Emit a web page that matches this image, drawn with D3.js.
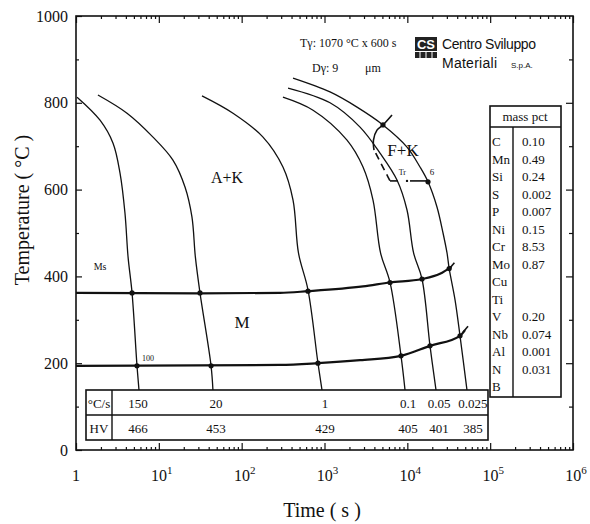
<!DOCTYPE html>
<html>
<head>
<meta charset="utf-8">
<script src="https://cdn.jsdelivr.net/npm/d3@7"></script>
<style>
  body { margin: 0; background: #fff; }
  text { font-family: "Liberation Serif", "Times New Roman", serif; fill: #111; }
</style>
</head>
<body>
<svg id="chart" width="590" height="524"></svg>
<script>
// -------------------------------
// Data: cooling curves [time s, temperature °C]
// -------------------------------
const curve150 = [[1.03,813],[1.95,760],[2.8,707],[3.4,638],[3.9,546],[4.25,445],[4.75,362],[5.45,194],[5.76,138]];
const curve20 = [[1.84,818],[4.13,776],[8.5,721],[14.8,668],[20.7,606],[25.1,537],[27.6,445],[31.4,362],[42.7,194],[45,138]];
const curve1 = [[33.2,816],[78.6,776],[181,721],[315,652],[417,576],[485,454],[632,369],[834,200],[933,138]];
const curve01 = [[315,813],[727,783],[1870,714],[2917,652],[3852,576],[4750,454],[6180,386],[8390,217],[9380,138]];
const curve005 = [[363,834],[1166,800],[2685,744],[4677,684],[7500,622],[9910,553],[11900,454],[15040,394],[18780,240],[22200,138]];
const curve0025 = [[417,857],[1166,825],[2470,790],[5080,749],[9910,698],[14230,652],[17770,618],[22800,560],[26970,500],[30140,454],[32000,418],[37660,346],[43250,263],[52500,138]];
const coolingCurves = [curve150, curve20, curve1, curve01, curve005, curve0025];

// Martensite start / finish lines
const msLine = [[1,362],[31.4,361],[290,362],[632,366],[2917,377],[6180,386],[15040,394],[24800,406],[34000,422]];
const mfLine = [[1,194],[290,196],[834,200],[2690,207],[8390,217],[18780,240],[43250,263],[49700,276]];

// Ferrite start line and Tr level
const fStart = [[6530,772],[5080,749],[4300,737],[3900,714],[3960,691]];
const fStartDashed = [[4150,684],[5850,629],[6180,620]];
const trLevel = 620;
const trSegments = [[6180,7720],[10770,17770]];
const trDot = [9910,620];

// transformation points
const dots = [
  [4.75,362],[5.45,194],[31.4,362],[42.7,194],[632,366],[834,200],
  [6180,386],[8390,217],[15040,394],[18780,240],[32000,418],[43250,263],
  [5080,749],[17770,618]
];

// table under the curves
const rates = ["150", "20", "1", "0.1", "0.05", "0.025"];
const hardness = ["466", "453", "429", "405", "401", "385"];

// chemical composition
const elements = ["C","Mn","Si","S","P","Ni","Cr","Mo","Cu","Ti","V","Nb","Al","N","B"];
const massPct = ["0.10","0.49","0.24","0.002","0.007","0.15","8.53","0.87","","","0.20","0.074","0.001","0.031",""];

const yTicks = [0, 200, 400, 600, 800, 1000];
const xDecades = [0, 1, 2, 3, 4, 5, 6];

// -------------------------------
// Scales
// -------------------------------
const svg = d3.select("#chart");
const plot = { left: 76, right: 573, top: 16, bottom: 450 };
const x = d3.scaleLog().domain([1, 1e6]).range([plot.left, plot.right]);
const y = d3.scaleLinear().domain([0, 1000]).range([plot.bottom, plot.top]);
const serif = '"Liberation Serif", "Times New Roman", serif';

// -------------------------------
// Axes (ticks inside the frame)
// -------------------------------
const minorX = [];
for (let d = 0; d < 6; d++) for (let m = 2; m <= 9; m++) minorX.push(m * Math.pow(10, d));
const majorX = xDecades.map(d => Math.pow(10, d));

function clean(g) { g.select(".domain").remove(); g.selectAll("line").attr("stroke", "#111").attr("stroke-width", 1.2); }

svg.append("g").attr("transform", `translate(0,${plot.bottom})`)
  .call(d3.axisBottom(x).tickValues(minorX).tickSize(-3).tickFormat("")).call(clean);
svg.append("g").attr("transform", `translate(0,${plot.bottom})`)
  .call(d3.axisBottom(x).tickValues(majorX).tickSize(-7).tickFormat("")).call(clean);
svg.append("g").attr("transform", `translate(0,${plot.top})`)
  .call(d3.axisTop(x).tickValues(minorX).tickSize(-3).tickFormat("")).call(clean);
svg.append("g").attr("transform", `translate(0,${plot.top})`)
  .call(d3.axisTop(x).tickValues(majorX).tickSize(-7).tickFormat("")).call(clean);

const minorY = d3.range(100, 1000, 200);
svg.append("g").attr("transform", `translate(${plot.left},0)`)
  .call(d3.axisLeft(y).tickValues(yTicks).tickSize(-6).tickPadding(8).tickFormat(d3.format("d")))
  .call(clean)
  .selectAll("text").style("font-size", "16px").style("font-family", serif).attr("fill", "#111");
svg.append("g").attr("transform", `translate(${plot.left},0)`)
  .call(d3.axisLeft(y).tickValues(minorY).tickSize(-3).tickFormat("")).call(clean);
svg.append("g").attr("transform", `translate(${plot.right},0)`)
  .call(d3.axisRight(y).tickValues(yTicks.slice(1, -1)).tickSize(-7).tickFormat("")).call(clean);
svg.append("g").attr("transform", `translate(${plot.right},0)`)
  .call(d3.axisRight(y).tickValues(minorY).tickSize(-4).tickFormat("")).call(clean);

// frame
svg.append("rect")
  .attr("x", plot.left).attr("y", plot.top)
  .attr("width", plot.right - plot.left).attr("height", plot.bottom - plot.top)
  .attr("fill", "none").attr("stroke", "#111").attr("stroke-width", 1.6);

// x tick labels with superscripts
const xl = svg.append("g").selectAll("text").data(xDecades).enter().append("text")
  .attr("x", d => x(Math.pow(10, d)) + (d === 0 ? 0 : 3))
  .attr("y", 481)
  .attr("text-anchor", "middle")
  .style("font-size", "16px");
xl.text(d => d === 0 ? "1" : "10");
xl.filter(d => d > 0).append("tspan")
  .attr("dy", -7).style("font-size", "11px").text(d => d);

// axis titles
svg.append("text").attr("x", 322).attr("y", 517).attr("text-anchor", "middle")
  .style("font-size", "20px").text("Time ( s )");
svg.append("text").attr("transform", "translate(29,210) rotate(-90)").attr("text-anchor", "middle")
  .style("font-size", "20px").text("Temperature ( °C )");

// -------------------------------
// Curves
// -------------------------------
const line = d3.line().x(d => x(d[0])).y(d => y(d[1])).curve(d3.curveCatmullRom.alpha(0.5));
const flatLine = d3.line().x(d => x(d[0])).y(d => y(d[1])).curve(d3.curveMonotoneX);

svg.append("g").selectAll("path").data(coolingCurves).enter().append("path")
  .attr("d", line).attr("fill", "none").attr("stroke", "#111").attr("stroke-width", 1.3);

svg.append("g").selectAll("path").data([msLine, mfLine]).enter().append("path")
  .attr("d", flatLine).attr("fill", "none").attr("stroke", "#111").attr("stroke-width", 2.2);

// short end strokes on Ms / Mf lines
[msLine, mfLine].forEach(l => {
  const p = l[l.length - 1];
  svg.append("line")
    .attr("x1", x(p[0]) - 2).attr("y1", y(p[1]) + 2)
    .attr("x2", x(p[0]) + 3).attr("y2", y(p[1]) - 4)
    .attr("stroke", "#111").attr("stroke-width", 1.6);
});

svg.append("path").attr("d", line(fStart)).attr("fill", "none")
  .attr("stroke", "#111").attr("stroke-width", 1.6);
svg.append("path").attr("d", d3.line().x(d => x(d[0])).y(d => y(d[1]))(fStartDashed)).attr("fill", "none")
  .attr("stroke", "#111").attr("stroke-width", 1.6).attr("stroke-dasharray", "7,5");
svg.append("g").selectAll("line").data(trSegments).enter().append("line")
  .attr("x1", d => x(d[0])).attr("x2", d => x(d[1]))
  .attr("y1", y(trLevel)).attr("y2", y(trLevel))
  .attr("stroke", "#111").attr("stroke-width", 1.6);
svg.append("circle").attr("cx", x(trDot[0])).attr("cy", y(trDot[1])).attr("r", 1.2).attr("fill", "#111");

svg.append("g").selectAll("circle").data(dots).enter().append("circle")
  .attr("cx", d => x(d[0])).attr("cy", d => y(d[1])).attr("r", 2.6).attr("fill", "#111");

// -------------------------------
// Region labels
// -------------------------------
function label(t, T, s, size) {
  svg.append("text").attr("x", x(t)).attr("y", y(T)).attr("dy", "0.35em")
    .attr("text-anchor", "middle").style("font-size", size + "px").text(s);
}
label(66.5, 629, "A+K", 16);
label(8870, 691, "F+K", 17);
label(101, 295, "M", 17);
label(1.95, 422, "Ms", 10);
label(7.4, 212, "100", 8);
label(8700, 641, "Tr", 8);
label(19860, 641, "6", 9);

// -------------------------------
// Cooling rate / hardness table
// -------------------------------
const tb = svg.append("g");
tb.append("rect").attr("x", 86).attr("y", 390).attr("width", 402).attr("height", 50)
  .attr("fill", "#fff").attr("stroke", "#111").attr("stroke-width", 1.6);
tb.append("line").attr("x1", 86).attr("x2", 488).attr("y1", 415).attr("y2", 415)
  .attr("stroke", "#111").attr("stroke-width", 1.6);
tb.append("line").attr("x1", 112).attr("x2", 112).attr("y1", 390).attr("y2", 440)
  .attr("stroke", "#111").attr("stroke-width", 1.4);
tb.append("text").attr("x", 99).attr("y", 408).attr("text-anchor", "middle").style("font-size", "13px").text("°C/s");
tb.append("text").attr("x", 99).attr("y", 433).attr("text-anchor", "middle").style("font-size", "13px").text("HV");
const colX = coolingCurves.map((c, i) => x(c[c.length - 1][0]) + (i === 0 ? -1 : i === 5 ? 6 : 3));
tb.selectAll(".rate").data(rates).enter().append("text")
  .attr("x", (d, i) => colX[i]).attr("y", 408).attr("text-anchor", "middle")
  .style("font-size", "13px").text(d => d);
tb.selectAll(".hv").data(hardness).enter().append("text")
  .attr("x", (d, i) => colX[i]).attr("y", 433).attr("text-anchor", "middle")
  .style("font-size", "13px").text(d => d);

// -------------------------------
// Composition table
// -------------------------------
const ct = svg.append("g");
ct.append("rect").attr("x", 490).attr("y", 106).attr("width", 71).attr("height", 291)
  .attr("fill", "#fff").attr("stroke", "#111").attr("stroke-width", 1.6);
ct.append("line").attr("x1", 490).attr("x2", 561).attr("y1", 127).attr("y2", 127)
  .attr("stroke", "#111").attr("stroke-width", 1.6);
ct.append("line").attr("x1", 513).attr("x2", 513).attr("y1", 127).attr("y2", 397)
  .attr("stroke", "#111").attr("stroke-width", 1.4);
ct.append("text").attr("x", 525).attr("y", 121).attr("text-anchor", "middle")
  .style("font-size", "13px").text("mass pct");
ct.selectAll(".el").data(elements).enter().append("text")
  .attr("x", 492).attr("y", (d, i) => 146 + i * 17.5).style("font-size", "13px").text(d => d);
ct.selectAll(".pct").data(massPct).enter().append("text")
  .attr("x", 522).attr("y", (d, i) => 146 + i * 17.5).style("font-size", "13px").text(d => d);

// -------------------------------
// Header text and logo
// -------------------------------
svg.append("text").attr("x", 300).attr("y", 47).style("font-size", "12px").text("Tγ: 1070 °C x 600 s");
svg.append("text").attr("x", 312).attr("y", 72).style("font-size", "12px").text("Dγ:  9");
svg.append("text").attr("x", 365).attr("y", 72).style("font-size", "12px").text("μm");

const logo = svg.append("g").attr("transform", "translate(415,37)");
logo.append("rect").attr("width", 22).attr("height", 14).attr("fill", "#222");
logo.append("text").attr("x", 11).attr("y", 12).attr("text-anchor", "middle")
  .style("font-family", "Liberation Sans").style("font-weight", "bold").style("font-size", "13px")
  .style("fill", "#fff").text("CS");
logo.append("rect").attr("y", 15).attr("width", 22).attr("height", 6).attr("fill", "#222");
[5, 11, 17].forEach(v => logo.append("line").attr("x1", v).attr("x2", v).attr("y1", 15).attr("y2", 21)
  .attr("stroke", "#fff").attr("stroke-width", 1));

svg.append("text").attr("x", 442).attr("y", 49).style("font-family", "Liberation Sans")
  .style("font-size", "14px").attr("textLength", 94).text("Centro Sviluppo");
svg.append("text").attr("x", 442).attr("y", 68).style("font-family", "Liberation Sans")
  .style("font-size", "14px").attr("textLength", 55).text("Materiali");
svg.append("text").attr("x", 511).attr("y", 68).style("font-family", "Liberation Sans")
  .style("font-size", "8px").text("S.p.A.");
</script>
</body>
</html>
